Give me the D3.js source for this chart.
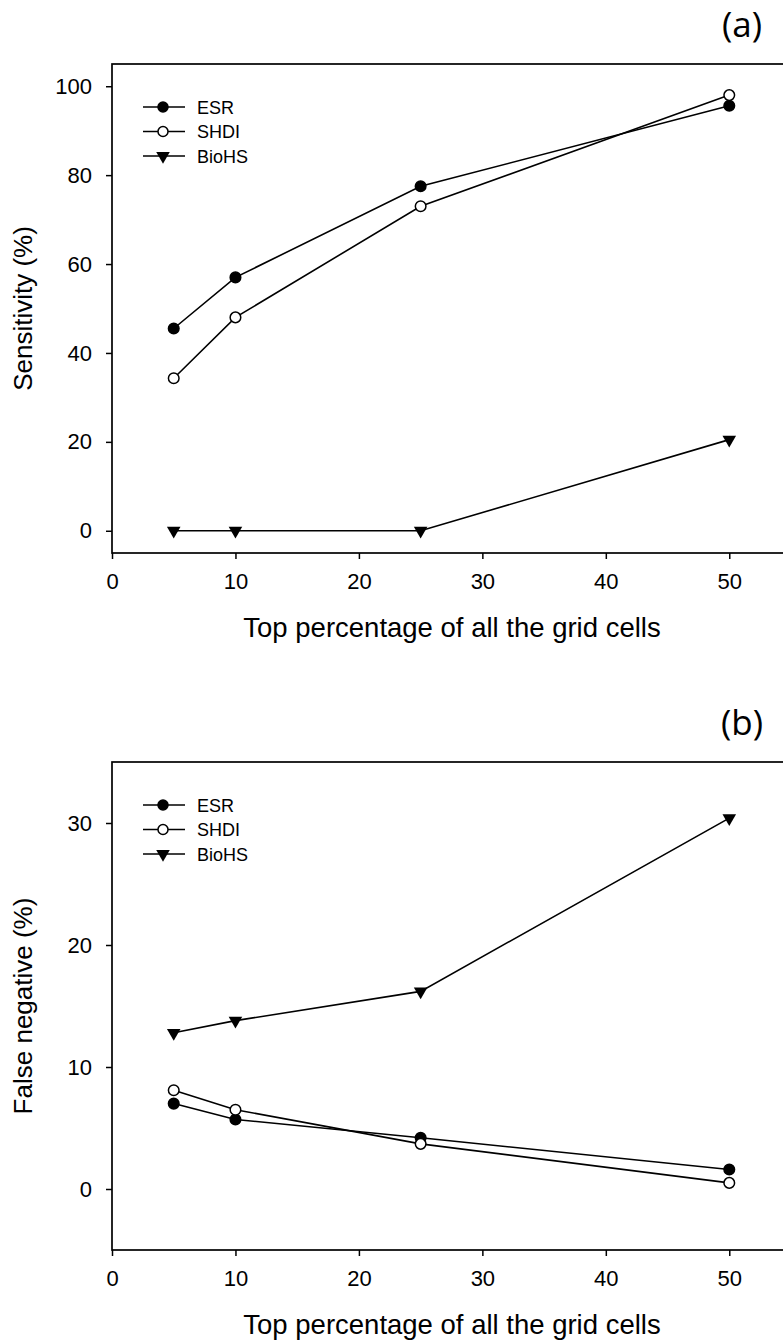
<!DOCTYPE html>
<html>
<head>
<meta charset="utf-8">
<script src="https://cdn.jsdelivr.net/npm/d3@7"></script>
<style>
  body { margin: 0; background: #fff; }
  svg text { font-family: "Liberation Sans", Arial, sans-serif; fill: #000; }
</style>
</head>
<body>
<svg width="783" height="1344"></svg>
<script>
// x values shared by both panels
var topPct = [5, 10, 25, 50];
var xTicks = [0, 10, 20, 30, 40, 50];
var seriesNames = ["ESR", "SHDI", "BioHS"];

// panel (a) sensitivity
var sensESR = [45.5, 57, 77.5, 95.6];
var sensSHDI = [34.3, 48, 73, 98];
var sensBioHS = [0, 0, 0, 20.5];
var sensTicks = [0, 20, 40, 60, 80, 100];

// panel (b) false negative
var fnESR = [7.0, 5.7, 4.2, 1.6];
var fnSHDI = [8.1, 6.5, 3.7, 0.5];
var fnBioHS = [12.8, 13.8, 16.2, 30.4];
var fnTicks = [0, 10, 20, 30];

var svg = d3.select("svg");

//Draws one panel. top/bottom = pixel extent of the frame.
function drawPanel(opts) {
    var x = d3.scaleLinear().domain([0, 55]).range([112, 791]);
    var y = d3.scaleLinear().domain(opts.yDomain).range([opts.bottom, opts.top]);
    var g = svg.append("g");

    // frame
    g.append("rect").attr("x", 112).attr("y", opts.top)
        .attr("width", 791 - 112).attr("height", opts.bottom - opts.top)
        .attr("fill", "none").attr("stroke", "#000").attr("stroke-width", 1.7);

    var xAxis = g.append("g").attr("transform", "translate(0," + opts.bottom + ")")
        .call(d3.axisBottom(x).tickValues(xTicks).tickSize(6).tickPadding(14));
    var yAxis = g.append("g").attr("transform", "translate(112,0)")
        .call(d3.axisLeft(y).tickValues(opts.yTicks).tickSize(6).tickPadding(14));
    [xAxis, yAxis].forEach(function(a) {
        a.select(".domain").remove();
        a.selectAll("line").attr("stroke", "#000").attr("stroke-width", 1.5);
        a.selectAll("text").style("font-family", "Liberation Sans, Arial, sans-serif")
            .style("font-size", "22px");
    });

    g.append("text").attr("x", 452).attr("y", opts.bottom + 84)
        .attr("text-anchor", "middle").style("font-size", "27.5px")
        .text("Top percentage of all the grid cells");

    g.append("text")
        .attr("transform", "translate(32," + ((opts.top + opts.bottom) / 2) + ") rotate(-90)")
        .attr("text-anchor", "middle").style("font-size", "26px")
        .text(opts.yTitle);

    g.append("text").attr("x", 742).attr("y", opts.top - 27)
        .attr("text-anchor", "middle")
        .style("font-family", "Open Sans, Noto Sans, sans-serif").style("font-size", "35px")
        .text(opts.tag);

    var line = d3.line().x(function(d, i) { return x(topPct[i]); }).y(function(d) { return y(d); });
    var tri = d3.symbol().type(d3.symbolTriangle).size(80);

    opts.series.forEach(function(vals, k) {
        g.append("path").datum(vals).attr("d", line)
            .attr("fill", "none").attr("stroke", "#000").attr("stroke-width", 1.6);
    });
    opts.series.forEach(function(vals, k) {
        var pts = g.selectAll(null).data(vals).enter();
        if (k == 2) {
            pts.append("path").attr("d", tri)
                .attr("transform", function(d, i) { return "translate(" + x(topPct[i]) + "," + y(d) + ") rotate(180)"; })
                .attr("fill", "#000");
        } else {
            pts.append("circle").attr("cx", function(d, i) { return x(topPct[i]); })
                .attr("cy", function(d) { return y(d); }).attr("r", 5.3)
                .attr("fill", k == 0 ? "#000" : "#fff").attr("stroke", "#000").attr("stroke-width", 1.5);
        }
    });

    // legend
    seriesNames.forEach(function(name, k) {
        var ly = opts.top + 43 + k * 24.5;
        g.append("line").attr("x1", 143).attr("x2", 185).attr("y1", ly).attr("y2", ly)
            .attr("stroke", "#000").attr("stroke-width", 1.6);
        if (k == 2) {
            g.append("path").attr("d", tri).attr("transform", "translate(163," + ly + ") rotate(180)").attr("fill", "#000");
        } else {
            g.append("circle").attr("cx", 163).attr("cy", ly).attr("r", 5)
                .attr("fill", k == 0 ? "#000" : "#fff").attr("stroke", "#000").attr("stroke-width", 1.5);
        }
        g.append("text").attr("x", 197).attr("y", ly + 6.5).style("font-size", "18px").text(name);
    });
}

drawPanel({ top: 64, bottom: 553, yDomain: [-5, 105], yTicks: sensTicks,
    yTitle: "Sensitivity (%)", tag: "(a)", series: [sensESR, sensSHDI, sensBioHS] });
drawPanel({ top: 762, bottom: 1250, yDomain: [-5, 35], yTicks: fnTicks,
    yTitle: "False negative (%)", tag: "(b)", series: [fnESR, fnSHDI, fnBioHS] });
</script>
</body>
</html>
